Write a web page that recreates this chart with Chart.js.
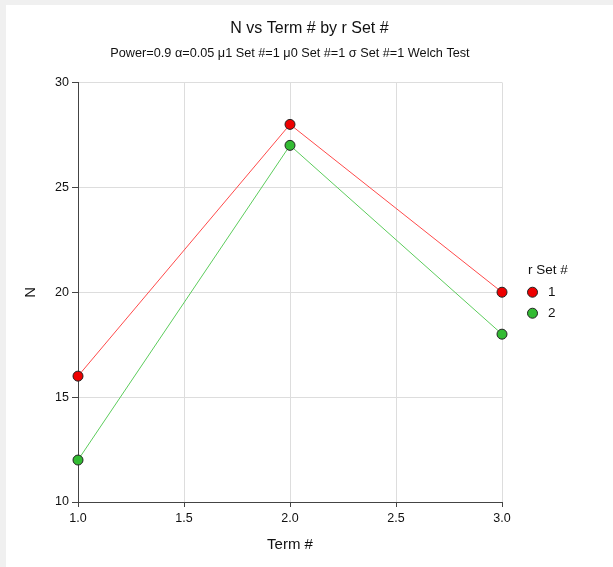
<!DOCTYPE html>
<html lang="en">
  <head>
    <meta charset="UTF-8" />
    <title>N vs Term # by r Set #</title>
    <style>
      * {
        margin: 0;
        padding: 0;
        box-sizing: border-box;
      }
      body {
        background: #f0f0f0;
        width: 613px;
        height: 567px;
        overflow: hidden;
      }
      .chartBox {
        position: absolute;
        left: 6px;
        top: 5px;
        width: 607px;
        height: 562px;
        background: white;
      }
    </style>
  </head>
  <body>
    <div class="chartBox">
      <canvas id="myChart" width="607" height="562"></canvas>
    </div>

    <script src="https://cdn.jsdelivr.net/npm/chart.js"></script>
    <script>
      const terms = [1, 2, 3];
      const setLabels = ["1", "2"];
      const nSet1 = [16, 28, 20];
      const nSet2 = [12, 27, 18];
      const xTicks = [1.0, 1.5, 2.0, 2.5, 3.0];
      const yTicks = [10, 15, 20, 25, 30];

      const pts = (vals) => vals.map((v, i) => ({ x: terms[i], y: v }));

      const font = "Liberation Sans, Arial, sans-serif";

      // legend on the right, drawn from the datasets
      const sideLegend = {
        id: "sideLegend",
        afterDraw(chart) {
          const { ctx, chartArea } = chart;
          const x0 = chartArea.right + 26;
          const yMid = (chartArea.top + chartArea.bottom) / 2;
          ctx.save();
          ctx.font = "13.5px " + font;
          ctx.fillStyle = "#111";
          ctx.textBaseline = "middle";
          ctx.textAlign = "left";
          ctx.fillText("r Set #", x0, yMid - 22);
          chart.data.datasets.forEach((ds, i) => {
            const y = yMid + i * 21;
            ctx.beginPath();
            ctx.arc(x0 + 4.5, y, 5, 0, Math.PI * 2);
            ctx.fillStyle = ds.pointBackgroundColor;
            ctx.fill();
            ctx.lineWidth = 1;
            ctx.strokeStyle = "#222";
            ctx.stroke();
            ctx.fillStyle = "#111";
            ctx.fillText(ds.label, x0 + 20, y);
          });
          ctx.restore();
        },
      };

      const data = {
        datasets: [
          {
            label: setLabels[0],
            data: pts(nSet1),
            showLine: true,
            clip: false,
            borderColor: "#ff4a4a",
            borderWidth: 1,
            pointBackgroundColor: "#ee0000",
            pointBorderColor: "#222",
            pointBorderWidth: 1,
            pointRadius: 5,
          },
          {
            label: setLabels[1],
            data: pts(nSet2),
            showLine: true,
            clip: false,
            borderColor: "#5ccc5c",
            borderWidth: 1,
            pointBackgroundColor: "#33bb33",
            pointBorderColor: "#222",
            pointBorderWidth: 1,
            pointRadius: 5,
          },
        ],
      };

      const config = {
        type: "scatter",
        data: data,
        options: {
          responsive: false,
          animation: false,
          layout: { padding: 0 },
          plugins: {
            legend: { display: false },
            tooltip: { enabled: false },
            title: {
              display: true,
              text: "N vs Term # by r Set #",
              color: "#111",
              font: { family: font, size: 16, weight: "normal" },
              padding: { top: 14, bottom: 8 },
            },
            subtitle: {
              display: true,
              fullSize: false,
              text: "Power=0.9 \u03b1=0.05 \u03bc1 Set #=1 \u03bc0 Set #=1 \u03c3 Set #=1 Welch Test",
              color: "#111",
              font: { family: font, size: 12.7 },
              padding: { top: 0, bottom: 21 },
            },
          },
          scales: {
            x: {
              type: "linear",
              min: 1,
              max: 3,
              afterBuildTicks: (s) => {
                s.ticks = xTicks.map((v) => ({ value: v }));
              },
              afterFit: (s) => {
                s.height = 65;
              },
              ticks: {
                color: "#111",
                font: { family: font, size: 12.5 },
                padding: 4,
                callback: (v) => v.toFixed(1),
                maxRotation: 0,
              },
              grid: {
                color: "#dddddd",
                tickColor: "#444",
                tickLength: 5,
              },
              border: { color: "#444", width: 1 },
              title: {
                display: true,
                text: "Term #",
                color: "#111",
                font: { family: font, size: 15 },
                padding: { top: 0, bottom: 13 },
              },
            },
            y: {
              type: "linear",
              min: 10,
              max: 30,
              afterBuildTicks: (s) => {
                s.ticks = yTicks.map((v) => ({ value: v }));
              },
              afterFit: (s) => {
                s.width = 72;
              },
              ticks: {
                color: "#111",
                font: { family: font, size: 12.5 },
                padding: 3,
              },
              grid: {
                color: "#dddddd",
                tickColor: "#444",
                tickLength: 6,
              },
              border: { color: "#444", width: 1 },
              title: {
                display: true,
                text: "N",
                color: "#111",
                font: { family: font, size: 15 },
                padding: { top: 16, bottom: 0 },
              },
            },
            // empty right-hand box that leaves room for the legend
            side: {
              type: "linear",
              position: "right",
              afterFit: (s) => {
                s.width = 111;
              },
              ticks: { display: false },
              grid: { display: false },
              border: { display: false },
            },
          },
        },
        plugins: [sideLegend],
      };

      const myChart = new Chart(document.getElementById("myChart"), config);
    </script>
  </body>
</html>
